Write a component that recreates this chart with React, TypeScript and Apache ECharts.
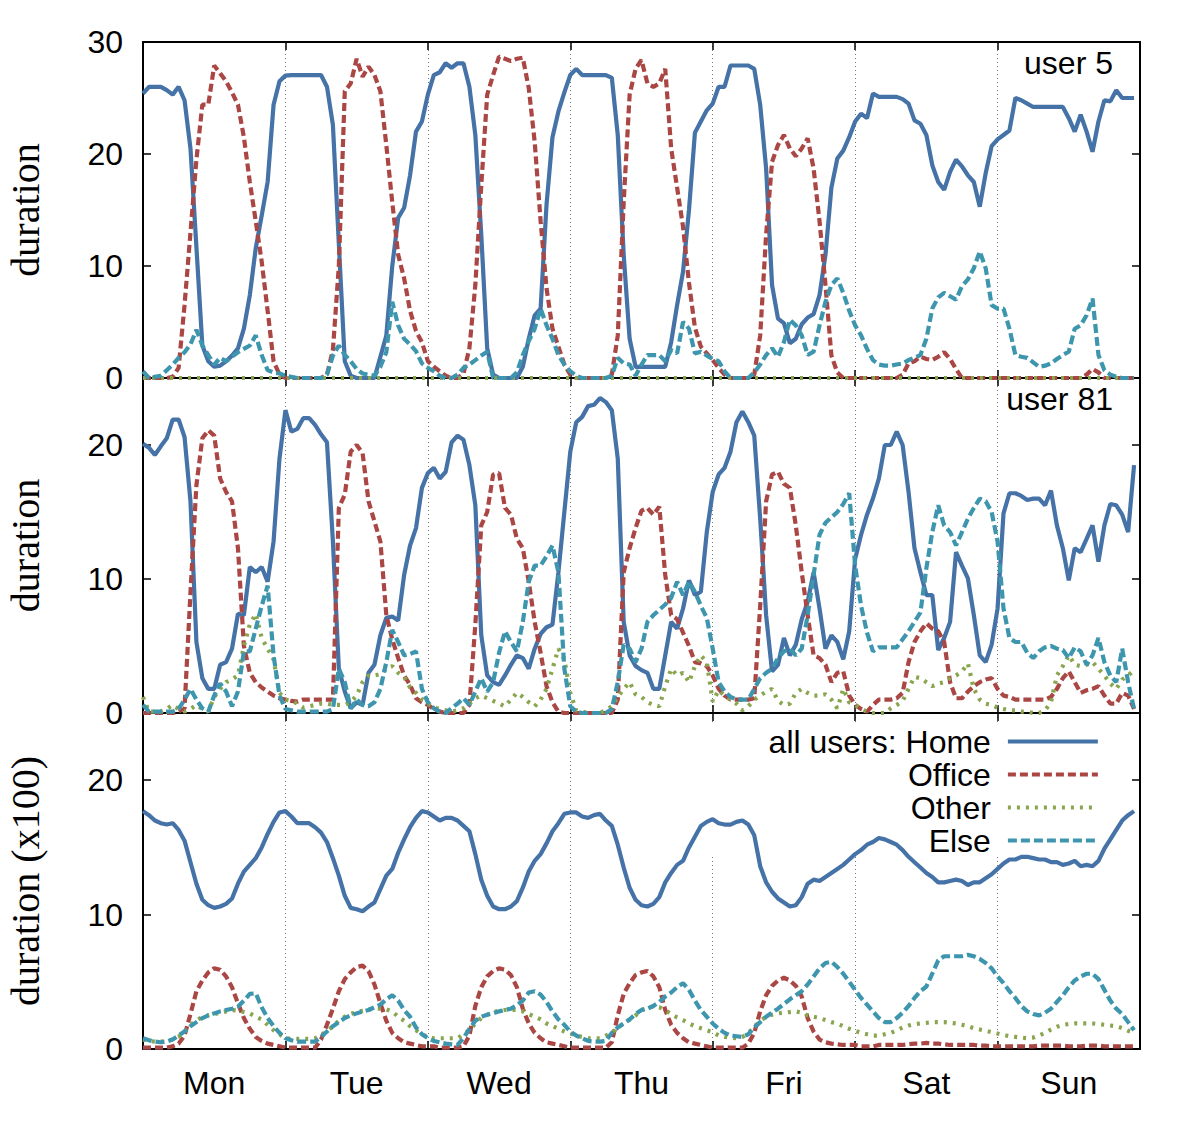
import React, { useEffect, useRef } from "react";
import * as echarts from "echarts";

const DAYS = ["Mon", "Tue", "Wed", "Thu", "Fri", "Sat", "Sun"];
const CATEGORIES = ["Home", "Office", "Other", "Else"];
const PANEL_LABELS = ["user 5", "user 81", ""];
const Y_NAMES = ["duration", "duration", "duration (x100)"];
const Y_MAX = [30, 25, 25];
const Y_INTERVAL = 10;
const X_MAX = 168;
const DAY_HOURS = 24;

// user 5 (hourly, Mon 0h .. Sun 23h)
const U5_HOME = [
  25.4, 26.0, 26.0, 26.0, 25.7, 25.3, 26.0, 24.8, 20.5, 11.7, 2.9, 1.5, 1.0, 1.1, 1.5, 2.0, 2.65, 4.4, 7.4, 11.6, 14.5, 17.5, 24.4, 26.5,
  27.0, 27.05, 27.05, 27.05, 27.05, 27.05, 27.05, 26.0, 22.6, 12.0, 1.5, 0.2, 0, 0, 0, 0, 1.9, 3.8, 10.0, 14.3, 15.2, 18.1, 22.0, 22.9,
  25.3, 27.05, 27.3, 28.1, 27.7, 28.1, 28.1, 26.0, 21.7, 12.8, 2.65, 0.3, 0, 0, 0, 0, 1.0, 3.5, 5.6, 6.2, 15.5, 21.5, 23.8, 25.5,
  27.05, 27.6, 27.05, 27.05, 27.05, 27.05, 27.05, 26.8, 21.7, 11.0, 3.5, 1.0, 1.0, 1.0, 1.0, 1.0, 1.0, 3.2, 6.5, 9.5, 15.0, 21.9, 22.9, 23.9,
  24.5, 26.0, 26.0, 27.9, 27.9, 27.9, 27.9, 27.6, 24.4, 18.7, 8.3, 5.3, 4.9, 3.1, 3.5, 4.8, 5.4, 5.7, 7.4, 11.0, 17.0, 19.6, 20.3, 21.5,
  22.9, 23.6, 23.2, 25.4, 25.1, 25.1, 25.1, 25.1, 24.9, 24.5, 23.0, 22.7, 21.7, 19.0, 17.5, 16.8, 18.4, 19.5, 18.9, 18.1, 17.5, 15.3, 18.3, 20.7,
  21.3, 21.7, 22.1, 25.0, 24.8, 24.5, 24.2, 24.2, 24.2, 24.2, 24.2, 24.2, 23.2, 22.0, 23.5, 22.0, 20.2, 22.9, 24.8, 24.7, 25.7, 25.0, 25.0, 25.0,
];
const U5_OFFICE = [
  0, 0, 0, 0, 0, 0.1, 0.9, 6.5, 13.0, 19.5, 24.4, 24.4, 27.9, 27.2, 26.5, 25.5, 24.4, 21.5, 17.5, 14.0, 10.4, 6.0, 1.5, 0.3,
  0, 0, 0, 0, 0, 0, 0, 0.3, 2.5, 10.0, 25.6, 26.3, 28.5, 26.9, 27.8, 27.05, 25.6, 20.8, 15.7, 11.0, 8.9, 6.0, 4.2, 3.2,
  1.5, 1.0, 0.6, 0.2, 0, 0, 0.4, 2.65, 8.3, 17.2, 25.3, 27.05, 28.7, 28.5, 28.3, 28.5, 28.6, 25.9, 21.1, 14.0, 8.0, 4.4, 2.8, 1.2,
  0.3, 0, 0, 0, 0, 0, 0, 0.3, 3.8, 15.7, 25.3, 27.6, 28.4, 26.3, 26.0, 26.3, 27.6, 20.5, 17.0, 13.5, 8.5, 4.5, 2.8, 2.2,
  1.6, 0.9, 0.3, 0, 0, 0, 0, 0.3, 3.8, 12.8, 19.3, 20.8, 21.7, 20.5, 19.8, 20.5, 21.4, 18.7, 14.0, 8.3, 2.0, 0.5, 0, 0,
  0, 0, 0, 0, 0, 0, 0, 0, 0.3, 1.3, 1.5, 1.9, 1.7, 1.6, 1.9, 2.3, 1.7, 0.8, 0, 0, 0, 0, 0, 0,
  0, 0, 0, 0, 0, 0, 0, 0, 0, 0, 0, 0, 0, 0, 0, 0.3, 0.8, 0.5, 0, 0, 0, 0, 0, 0,
];
const U5_OTHER = [
  0, 0, 0, 0, 0, 0, 0, 0, 0, 0, 0, 0, 0, 0, 0, 0, 0, 0, 0, 0, 0, 0, 0, 0,
  0, 0, 0, 0, 0, 0, 0, 0, 0, 0, 0, 0, 0, 0, 0, 0, 0, 0, 0, 0, 0, 0, 0, 0,
  0, 0, 0, 0, 0, 0, 0, 0, 0, 0, 0, 0, 0, 0, 0, 0, 0, 0, 0, 0, 0, 0, 0, 0,
  0, 0, 0, 0, 0, 0, 0, 0, 0, 0, 0, 0, 0, 0, 0, 0, 0, 0, 0, 0, 0, 0, 0, 0,
  0, 0, 0, 0, 0, 0, 0, 0, 0, 0, 0, 0, 0, 0, 0, 0, 0, 0, 0, 0, 0, 0, 0, 0,
  0, 0, 0, 0, 0, 0, 0, 0, 0, 0, 0, 0, 0, 0, 0, 0, 0, 0, 0, 0, 0, 0, 0, 0,
  0, 0, 0, 0, 0, 0, 0, 0, 0, 0, 0, 0, 0, 0, 0, 0, 0, 0, 0, 0, 0, 0, 0, 0,
];
const U5_ELSE = [
  0.6, 0, 0.1, 0.2, 0.7, 1.2, 1.8, 2.3, 3.0, 4.3, 2.9, 2.05, 1.2, 1.8, 1.5, 1.9, 2.3, 2.6, 2.9, 3.8, 2.05, 0.7, 0.5, 0.4,
  0.2, 0.1, 0, 0, 0, 0, 0, 0.3, 2.0, 2.9, 2.05, 1.5, 0.8, 0.4, 0.3, 0.2, 1.0, 2.3, 6.8, 4.7, 3.5, 3.0, 2.4, 1.3,
  0.9, 0.6, 0.2, 0, 0, 0.3, 0.9, 1.2, 1.6, 2.0, 2.35, 0, 0, 0, 0, 0.5, 2.05, 3.3, 4.4, 6.2, 4.7, 3.5, 2.05, 1.2,
  0.6, 0.2, 0, 0, 0, 0, 0, 0.2, 1.8, 1.3, 1.2, 0.2, 1.2, 2.05, 2.05, 2.05, 1.5, 2.5, 2.2, 5.0, 4.4, 2.2, 2.35, 2.0,
  1.7, 1.5, 0.6, 0, 0, 0, 0, 0.5, 1.2, 2.05, 2.65, 1.9, 3.2, 5.2, 4.7, 3.8, 2.05, 2.35, 4.7, 6.8, 8.3, 8.9, 7.6, 6.0,
  4.7, 3.8, 2.6, 1.6, 1.2, 1.1, 1.1, 1.2, 1.3, 1.6, 1.8, 2.05, 3.5, 6.2, 7.2, 7.6, 7.3, 7.0, 8.2, 8.8, 9.8, 11.3, 9.8, 6.5,
  6.2, 6.2, 4.4, 2.05, 1.9, 1.8, 1.4, 1.0, 1.1, 1.3, 1.7, 2.05, 2.35, 4.4, 4.7, 5.6, 7.1, 2.05, 0.7, 0.3, 0.1, 0, 0, 0,
];

// user 81
const U81_HOME = [
  20.1, 19.8, 19.25, 19.9, 20.5, 21.9, 21.9, 20.6, 15.8, 5.3, 2.6, 1.8, 1.8, 3.6, 3.8, 4.8, 7.4, 7.3, 10.9, 10.5, 10.9, 9.8, 12.8, 19.0,
  22.6, 21.0, 21.2, 22.0, 22.0, 21.5, 20.8, 20.2, 12.8, 3.3, 1.6, 0.35, 0.8, 0.6, 3.0, 3.6, 5.8, 7.1, 7.2, 6.9, 10.3, 12.5, 13.8, 16.8,
  17.9, 18.3, 17.5, 18.0, 20.2, 20.7, 20.4, 18.5, 15.5, 5.8, 2.8, 2.3, 2.1, 2.8, 3.6, 4.3, 4.1, 3.3, 4.8, 5.9, 6.4, 6.6, 10.5, 15.0,
  19.5, 21.7, 22.1, 22.9, 23.0, 23.5, 23.2, 22.6, 19.0, 6.8, 4.3, 3.5, 3.2, 3.0, 1.8, 1.8, 4.3, 6.8, 6.3, 7.8, 9.9, 8.8, 9.05, 13.5,
  16.5, 17.8, 18.3, 19.5, 21.7, 22.5, 21.7, 20.7, 14.5, 7.3, 3.1, 3.6, 5.6, 4.3, 5.1, 7.0, 8.3, 10.5, 7.8, 4.8, 5.8, 5.3, 4.0, 6.1,
  11.5, 13.3, 14.8, 16.0, 17.5, 20.0, 20.0, 21.0, 20.0, 16.5, 12.3, 10.5, 8.8, 8.8, 4.7, 5.6, 6.8, 12.0, 11.0, 10.05, 7.3, 4.3, 3.8, 5.1,
  7.8, 14.9, 16.4, 16.4, 16.2, 15.9, 16.0, 16.0, 15.5, 16.6, 14.0, 12.3, 9.9, 12.3, 12.0, 13.0, 14.0, 11.3, 14.0, 15.6, 15.5, 14.8, 13.5, 18.5,
];
const U81_OFFICE = [
  0, 0, 0, 0, 0, 0, 0.1, 0.35, 9.0, 17.0, 20.5, 21.1, 20.7, 17.5, 16.5, 15.8, 12.3, 5.0, 3.0, 2.3, 1.9, 1.6, 1.3, 1.1,
  1.0, 0.9, 0.85, 1.0, 1.0, 1.0, 1.0, 1.0, 1.0, 15.3, 16.3, 19.5, 20.0, 19.4, 15.8, 14.3, 12.8, 7.3, 5.5, 4.1, 2.8, 2.1, 1.1, 0.8,
  0.6, 0.3, 0.1, 0, 0, 0, 0, 0.6, 6.6, 14.0, 15.0, 17.8, 17.9, 15.3, 14.8, 13.0, 12.3, 9.8, 6.8, 4.5, 2.0, 0.8, 0.1, 0,
  0, 0, 0, 0, 0, 0, 0, 0, 1.0, 10.5, 12.3, 13.8, 15.1, 15.3, 14.8, 15.4, 10.3, 7.3, 7.0, 6.0, 5.0, 3.8, 3.7, 3.5,
  2.8, 1.8, 1.3, 1.0, 1.0, 1.0, 1.0, 1.1, 8.0, 15.8, 17.8, 18.0, 17.1, 16.8, 14.0, 10.5, 7.3, 4.3, 4.1, 3.6, 2.3, 3.0, 3.1, 1.3,
  0.6, 0.3, 0.1, 0.6, 1.0, 1.0, 1.0, 1.1, 1.5, 3.8, 5.3, 6.1, 6.7, 6.3, 6.1, 5.3, 2.3, 1.1, 1.1, 1.6, 2.0, 2.3, 2.5, 2.6,
  1.8, 1.3, 1.2, 1.0, 1.0, 1.0, 1.0, 1.0, 1.0, 1.2, 1.8, 2.6, 3.1, 2.3, 1.5, 1.7, 1.8, 2.0, 1.3, 0.7, 0.7, 1.5, 1.3, 0.3,
];
const U81_OTHER = [
  1.2, 0.1, 0.1, 0.1, 0.3, 0.6, 0.3, 0.1, 0.3, 0.6, 0.3, 0.1, 1.2, 1.8, 2.3, 2.5, 2.8, 5.0, 6.6, 7.4, 5.6, 4.8, 4.0, 1.5,
  1.0, 0.9, 0.7, 0.4, 0.5, 0.6, 0.7, 0.7, 0.6, 0.6, 0.6, 0.8, 1.3, 2.3, 2.8, 2.8, 2.9, 3.3, 3.5, 3.0, 2.7, 1.9, 1.5, 1.0,
  0.7, 0.4, 0.3, 0.2, 0.1, 0.2, 0.35, 0.7, 1.1, 1.3, 1.1, 0.9, 0.7, 0.5, 1.0, 1.5, 1.2, 0.8, 0.5, 1.0, 1.8, 3.3, 4.8, 4.0,
  1.5, 0.2, 0.1, 0, 0, 0, 0.2, 0.5, 1.2, 1.8, 2.3, 1.4, 1.2, 0.8, 0.6, 0.5, 2.0, 3.3, 2.8, 3.0, 2.3, 3.5, 4.3, 3.8,
  0.85, 1.7, 1.3, 1.0, 0.7, 0.2, 0.5, 1.0, 1.3, 1.6, 1.8, 0.9, 0.6, 0.7, 1.5, 1.8, 1.5, 1.3, 1.3, 1.4, 1.0, 0.35, 1.8, 0.8,
  0.6, 0.3, 0.1, 0, 0, 0, 0.35, 0.6, 0.9, 1.8, 2.7, 2.6, 2.3, 2.0, 2.2, 2.3, 2.6, 2.8, 3.1, 3.7, 1.8, 1.0, 0.7, 0.6,
  0.4, 0.3, 0.2, 0.2, 0.1, 0.1, 0, 0, 0.2, 0.8, 2.8, 3.5, 4.3, 3.6, 3.5, 3.6, 3.8, 3.3, 2.8, 2.2, 1.8, 2.5, 2.8, 3.2,
];
const U81_ELSE = [
  0.6, 0.1, 0.1, 0.1, 0.1, 0.1, 0.3, 1.0, 1.8, 1.0, 0.35, 0.1, 1.3, 2.2, 1.6, 0.5, 1.6, 4.6, 4.6, 6.3, 8.0, 9.5, 4.3, 1.3,
  0.3, 0.2, 0.1, 0.1, 0.1, 0.1, 0.1, 0.1, 0.3, 3.3, 2.3, 0.35, 1.0, 0.6, 0.5, 0.8, 1.8, 3.8, 6.2, 5.3, 4.3, 4.4, 4.6, 1.8,
  0.8, 0.35, 0.1, 0, 0.35, 0.7, 1.1, 0.6, 1.6, 2.6, 1.6, 2.3, 4.5, 6.1, 5.3, 4.6, 6.8, 9.8, 11.0, 11.0, 11.7, 12.5, 10.5, 3.3,
  0.5, 0.1, 0, 0, 0, 0, 0, 0.3, 2.3, 5.1, 4.8, 3.8, 4.8, 6.8, 7.3, 7.7, 8.1, 8.6, 9.8, 8.8, 9.8, 9.05, 8.0, 7.1,
  4.8, 2.3, 1.6, 1.2, 1.0, 1.0, 1.0, 1.8, 2.6, 3.0, 3.3, 4.1, 4.6, 4.8, 4.3, 4.8, 7.3, 10.3, 13.3, 14.2, 14.6, 15.0, 15.6, 16.4,
  11.0, 8.0, 6.0, 4.6, 4.9, 4.9, 4.9, 4.9, 5.5, 6.1, 6.8, 7.5, 10.8, 13.5, 15.5, 14.0, 13.5, 12.5, 13.5, 14.5, 15.3, 16.0, 15.8, 15.0,
  12.8, 7.8, 5.6, 5.3, 5.3, 4.5, 4.1, 4.6, 4.9, 5.0, 4.8, 4.7, 4.1, 4.9, 4.6, 3.6, 4.3, 5.6, 3.8, 2.8, 2.3, 4.8, 2.3, 0.3,
];

// all users (x100)
const ALL_HOME = [
  17.7, 17.4, 17.0, 16.8, 16.7, 16.8, 16.3, 15.5, 13.9, 12.3, 11.1, 10.7, 10.5, 10.6, 10.8, 11.2, 12.3, 13.2, 13.7, 14.2, 15.0, 16.0, 16.9, 17.6,
  17.7, 17.3, 16.8, 16.8, 16.8, 16.5, 16.1, 15.4, 14.2, 12.9, 11.4, 10.5, 10.4, 10.25, 10.6, 10.9, 11.9, 12.9, 13.4, 14.6, 15.6, 16.5, 17.2, 17.7,
  17.6, 17.3, 17.0, 17.2, 17.2, 17.0, 16.6, 16.2, 14.5, 12.6, 11.4, 10.6, 10.4, 10.4, 10.6, 11.0, 12.0, 13.2, 14.0, 14.5, 15.3, 16.2, 16.8, 17.5,
  17.6, 17.6, 17.3, 17.2, 17.4, 17.5, 17.0, 16.6, 15.2, 13.5, 12.0, 11.1, 10.7, 10.6, 10.8, 11.3, 12.4, 13.1, 13.7, 14.0, 15.0, 15.8, 16.6, 16.9,
  17.1, 16.8, 16.7, 16.7, 16.9, 17.0, 16.7, 15.9, 13.6, 12.4, 11.7, 11.2, 10.9, 10.6, 10.7, 11.3, 12.3, 12.6, 12.5, 12.8, 13.1, 13.4, 13.7, 14.1,
  14.5, 14.8, 15.2, 15.4, 15.7, 15.6, 15.4, 15.2, 14.8, 14.3, 13.9, 13.5, 13.1, 12.8, 12.4, 12.4, 12.5, 12.6, 12.5, 12.2, 12.4, 12.4, 12.7, 13.0,
  13.4, 13.8, 14.1, 14.1, 14.3, 14.3, 14.2, 14.1, 14.1, 13.9, 13.9, 13.7, 13.8, 14.0, 13.6, 13.7, 13.6, 14.0, 14.9, 15.6, 16.3, 17.0, 17.4, 17.7,
];
const ALL_OFFICE = [
  0.1, 0.1, 0.1, 0.1, 0.1, 0.2, 0.4, 1.0, 2.6, 4.3, 5.1, 5.7, 6.0, 5.9, 5.4, 4.6, 3.4, 2.3, 1.5, 0.9, 0.6, 0.4, 0.3, 0.2,
  0.1, 0.1, 0.1, 0.1, 0.1, 0.1, 0.7, 1.8, 3.0, 4.3, 5.2, 5.7, 6.1, 6.2, 5.8, 4.8, 3.4, 2.1, 1.2, 0.8, 0.5, 0.4, 0.3, 0.2,
  0.2, 0.2, 0.1, 0.1, 0.1, 0.1, 0.2, 1.0, 3.2, 4.6, 5.4, 5.8, 6.0, 5.9, 5.5, 4.6, 3.0, 1.9, 1.2, 0.8, 0.5, 0.4, 0.3, 0.2,
  0.1, 0.1, 0.1, 0.1, 0.1, 0.1, 0.1, 0.5, 2.5, 4.1, 4.9, 5.5, 5.7, 5.8, 5.4, 4.6, 2.9, 1.8, 1.2, 0.8, 0.5, 0.4, 0.3, 0.2,
  0.1, 0.1, 0.1, 0.1, 0.1, 0.1, 0.4, 1.2, 2.8, 4.0, 4.7, 5.1, 5.3, 5.1, 4.7, 3.9, 2.3, 1.3, 0.7, 0.5, 0.4, 0.35, 0.3, 0.3,
  0.3, 0.2, 0.2, 0.2, 0.3, 0.3, 0.3, 0.3, 0.3, 0.35, 0.4, 0.4, 0.45, 0.4, 0.4, 0.35, 0.3, 0.3, 0.3, 0.3, 0.3, 0.25, 0.25, 0.2,
  0.2, 0.2, 0.2, 0.2, 0.2, 0.2, 0.2, 0.25, 0.25, 0.25, 0.25, 0.25, 0.2, 0.2, 0.2, 0.25, 0.25, 0.25, 0.2, 0.2, 0.2, 0.2, 0.2, 0.2,
];
const ALL_OTHER = [
  0.7, 0.6, 0.55, 0.55, 0.6, 0.7, 0.9, 1.3, 1.8, 2.1, 2.4, 2.5, 2.6, 2.7, 2.8, 2.9, 2.85, 2.75, 2.65, 2.4, 2.2, 1.8, 1.4, 1.1,
  0.8, 0.75, 0.75, 0.75, 0.75, 0.8, 1.0, 1.3, 1.7, 2.1, 2.4, 2.6, 2.75, 2.85, 2.95, 3.0, 3.0, 2.95, 2.8, 2.4, 2.1, 1.7, 1.4, 1.1,
  0.9, 0.8, 0.8, 0.8, 0.8, 0.8, 1.1, 1.4, 1.9, 2.3, 2.55, 2.75, 2.85, 2.9, 2.9, 2.9, 2.8, 2.6, 2.4, 2.2, 1.9, 1.7, 1.5, 1.3,
  1.15, 1.0, 0.9, 0.8, 0.8, 0.8, 1.0, 1.2, 1.6, 1.9, 2.2, 2.5, 2.9, 3.1, 3.15, 3.1, 2.9, 2.6, 2.35, 2.15, 1.9, 1.7, 1.55, 1.4,
  1.25, 1.0, 0.9, 0.85, 0.8, 0.9, 1.2, 1.6, 2.1, 2.4, 2.55, 2.65, 2.7, 2.75, 2.8, 2.7, 2.5, 2.4, 2.3, 2.15, 2.0, 1.9, 1.7, 1.5,
  1.35, 1.2, 1.1, 1.0, 1.0, 1.1, 1.2, 1.4, 1.6, 1.75, 1.85, 1.9, 1.95, 2.0, 2.0, 2.0, 1.95, 1.9, 1.8, 1.7, 1.55, 1.45, 1.35, 1.25,
  1.15, 1.05, 0.95, 0.9, 0.85, 0.8, 0.85, 1.0, 1.2, 1.45, 1.65, 1.8, 1.85, 1.9, 1.9, 1.9, 1.9, 1.85, 1.8, 1.75, 1.7, 1.55, 1.35, 1.2,
];
const ALL_ELSE = [
  0.8, 0.65, 0.55, 0.5, 0.55, 0.7, 1.0, 1.3, 1.7, 2.0, 2.3, 2.5, 2.65, 2.8, 2.9, 3.0, 3.15, 3.6, 4.1, 4.15, 3.1, 2.3, 1.7, 1.2,
  0.8, 0.65, 0.55, 0.55, 0.55, 0.55, 0.9, 1.3, 1.7, 2.0, 2.3, 2.5, 2.65, 2.8, 2.9, 3.1, 3.3, 3.7, 4.0, 3.6, 2.9, 2.4, 1.6, 1.1,
  0.8, 0.6, 0.5, 0.4, 0.35, 0.3, 0.8, 1.5, 2.1, 2.4, 2.55, 2.65, 2.8, 2.9, 3.0, 3.25, 3.6, 4.2, 4.3, 4.05, 3.5, 2.8, 2.2, 1.8,
  1.3, 1.0, 0.8, 0.6, 0.55, 0.55, 0.6, 1.2, 1.6, 1.9, 2.2, 2.6, 2.9, 3.0, 3.2, 3.5, 3.9, 4.2, 4.6, 4.9, 4.4, 3.6, 2.9, 2.4,
  1.9, 1.5, 1.2, 1.0, 0.95, 0.9, 1.1, 1.6, 2.0, 2.4, 2.7, 3.0, 3.35, 3.7, 4.0, 4.3, 4.8, 5.4, 6.0, 6.4, 6.5, 6.1, 5.6, 5.0,
  4.4, 3.8, 3.3, 2.8, 2.3, 2.0, 2.0, 2.3, 2.7, 3.2, 3.8, 4.3, 4.65, 5.6, 6.6, 6.9, 6.9, 6.9, 6.9, 7.0, 6.9, 6.7, 6.4, 6.0,
  5.4, 4.9, 4.3, 3.8, 3.2, 2.8, 2.6, 2.5, 2.7, 3.0, 3.5, 4.0, 4.6, 5.1, 5.4, 5.6, 5.6, 5.2, 4.4, 3.6, 3.0, 2.6, 2.0, 1.4,
];

const PANELS: Record<string, number[]>[] = [
  { Home: U5_HOME, Office: U5_OFFICE, Other: U5_OTHER, Else: U5_ELSE },
  { Home: U81_HOME, Office: U81_OFFICE, Other: U81_OTHER, Else: U81_ELSE },
  { Home: ALL_HOME, Office: ALL_OFFICE, Other: ALL_OTHER, Else: ALL_ELSE },
];

const SANS = "'Liberation Sans', Arial, Helvetica, sans-serif";
const SERIF = "'Liberation Serif', 'Times New Roman', serif";

const LINE_STYLES: Record<string, any> = {
  Home: { color: "#4572A7", width: 4.2, type: "solid" },
  Office: { color: "#AA4643", width: 4.2, type: [8, 4] },
  Other: { color: "#89A54E", width: 4.2, type: [3, 6] },
  Else: { color: "#3D96AE", width: 4.2, type: [9, 4] },
};

const GRIDS = [
  { left: 143, top: 42, width: 997, height: 336 },
  { left: 143, top: 378, width: 997, height: 335 },
  { left: 143, top: 713, width: 997, height: 336 },
];

function buildOption() {
  const axisLine = { show: true, onZero: false, lineStyle: { color: "#000", width: 2 } };
  const tick = { show: true, inside: true, length: 8, lineStyle: { color: "#000", width: 1.5 } };
  const xAxis: any[] = [];
  const yAxis: any[] = [];
  const series: any[] = [];

  PANELS.forEach((panel, pi) => {
    xAxis.push({
      gridIndex: pi, type: "value", min: 0, max: X_MAX, interval: DAY_HOURS, position: "bottom",
      axisLine, axisTick: tick, axisLabel: { show: false },
      splitLine: { show: true, lineStyle: { color: "#777", width: 1, type: [1, 3] } },
    });
    xAxis.push({
      gridIndex: pi, type: "value", min: 0, max: X_MAX, interval: DAY_HOURS, position: "top",
      axisLine, axisTick: tick, axisLabel: { show: false }, splitLine: { show: false },
    });
    yAxis.push({
      gridIndex: pi, type: "value", min: 0, max: Y_MAX[pi], interval: Y_INTERVAL, position: "left",
      axisLine, axisTick: tick, splitLine: { show: false },
      axisLabel: { show: true, color: "#000", fontSize: 32, fontFamily: SANS, margin: 20, showMaxLabel: Y_MAX[pi] % Y_INTERVAL === 0 },
      name: Y_NAMES[pi], nameLocation: "middle", nameGap: 98,
      nameTextStyle: { color: "#000", fontSize: 40, fontFamily: SERIF },
    });
    yAxis.push({
      gridIndex: pi, type: "value", min: 0, max: Y_MAX[pi], interval: Y_INTERVAL, position: "right",
      axisLine, axisTick: tick, axisLabel: { show: false }, splitLine: { show: false },
    });
    CATEGORIES.forEach((c, ci) => {
      series.push({
        name: c, type: "line", xAxisIndex: pi * 2, yAxisIndex: pi * 2,
        data: panel[c].map((v, i) => [i, v]),
        symbol: "none", showSymbol: false, clip: true,
        lineStyle: LINE_STYLES[c], itemStyle: { color: LINE_STYLES[c].color, opacity: 0 },
        emphasis: { disabled: true }, z: 2 + ci * 0.1,
      });
    });
  });

  xAxis.push({
    gridIndex: 2, type: "category", data: DAYS, position: "bottom", boundaryGap: true,
    axisLine: { show: false }, axisTick: { show: false }, splitLine: { show: false },
    axisLabel: { show: true, color: "#000", fontSize: 32, fontFamily: SANS, margin: 18 },
  });

  const labels = PANEL_LABELS.map((t, i) => ({ t, i })).filter((o) => o.t).map(({ t, i }) => ({
    type: "text", right: 1200 - 1113, top: GRIDS[i].top + 5, z: 10,
    style: { text: t, fill: "#000", font: `32px ${SANS}` },
  }));

  return {
    animation: false,
    backgroundColor: "#fff",
    grid: GRIDS.map((g) => ({ ...g, containLabel: false, outerBoundsMode: "none" })),
    xAxis, yAxis, series,
    legend: {
      data: CATEGORIES, orient: "vertical", align: "right",
      right: 95, top: 716, itemWidth: 90, itemHeight: 20, itemGap: 0,
      padding: [9, 5, 2, 55],
      selectedMode: false,
      itemStyle: { opacity: 0 },
      lineStyle: { width: 4.2 },
      formatter: (n: string) => (n === "Home" ? "all users: Home" : n),
      textStyle: { color: "#000", fontSize: 32, fontFamily: SANS, lineHeight: 33, padding: [0, 12, 0, 0] },
    },
    graphic: [
      // opaque key box: hides the day grid lines behind the key, drawn under the data lines
      { type: "rect", shape: { x: 705, y: 722, width: 400, height: 135 }, style: { fill: "#fff" }, z: 1, silent: true },
      ...labels,
    ],
  };
}

export default function App() {
  const ref = useRef<HTMLDivElement>(null);
  useEffect(() => {
    if (!ref.current) return;
    const chart = echarts.init(ref.current, undefined, { renderer: "svg" });
    chart.setOption(buildOption() as any);
    return () => chart.dispose();
  }, []);
  return (
    <div
      ref={ref}
      style={{ position: "fixed", left: 0, top: 0, width: 1200, height: 1134, background: "#fff" }}
    />
  );
}
